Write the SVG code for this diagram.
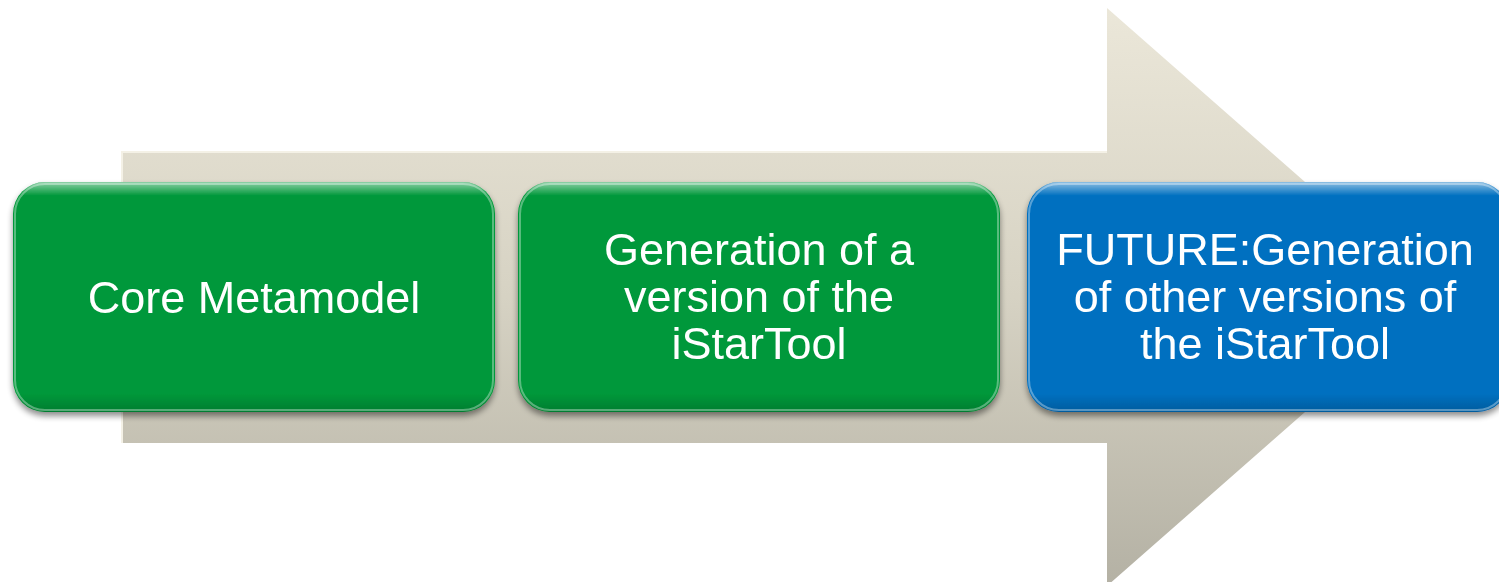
<svg xmlns="http://www.w3.org/2000/svg" width="1499" height="582" viewBox="0 0 1499 582">
  <defs>
    <linearGradient id="arrowFill" x1="0" y1="0" x2="0" y2="1">
      <stop offset="0" stop-color="#ebe7d9"/>
      <stop offset="0.5" stop-color="#d6d2c3"/>
      <stop offset="1" stop-color="#b4b1a4"/>
    </linearGradient>
    <linearGradient id="gloss" x1="0" y1="0" x2="0" y2="1">
      <stop offset="0" stop-color="#ffffff" stop-opacity="0.55"/>
      <stop offset="0.06" stop-color="#ffffff" stop-opacity="0"/>
      <stop offset="0.92" stop-color="#000000" stop-opacity="0"/>
      <stop offset="1" stop-color="#000000" stop-opacity="0.18"/>
    </linearGradient>
    <filter id="shadow" x="-5%" y="-5%" width="110%" height="120%">
      <feGaussianBlur in="SourceAlpha" stdDeviation="3"/>
      <feOffset dx="0" dy="4" result="b"/>
      <feComponentTransfer><feFuncA type="linear" slope="0.45"/></feComponentTransfer>
      <feMerge><feMergeNode/><feMergeNode in="SourceGraphic"/></feMerge>
    </filter>
  </defs>
  <style>
    .label { font-family: "Liberation Sans", Arial, sans-serif; font-size: 45px; fill: #ffffff; text-anchor: middle; }
    .green { fill: #00983a; }
    .blue { fill: #0070c0; }
    .rim { fill: none; stroke: #ffffff; stroke-opacity: 0.35; stroke-width: 2; }
  </style>

  <rect width="1499" height="582" fill="#ffffff"/>

  <!-- background block arrow -->
  <g id="timeline-arrow">
    <polygon points="122,152 1107,152 1107,8 1436,297 1107,586 1107,443 122,443" fill="url(#arrowFill)"/>
    <polyline points="122,443 122,152 1107,152" fill="none" stroke="#f4f1e6" stroke-width="2"/>
  </g>

  <g id="node-core" filter="url(#shadow)">
    <rect class="green" x="13" y="182" width="482" height="230" rx="32"/>
    <rect x="13" y="182" width="482" height="230" rx="32" fill="url(#gloss)"/>
    <rect class="rim" x="15" y="184" width="478" height="226" rx="30"/>
    <text class="label" x="254" y="313">Core Metamodel</text>
  </g>

  <g id="node-generation" filter="url(#shadow)">
    <rect class="green" x="518" y="182" width="482" height="230" rx="32"/>
    <rect x="518" y="182" width="482" height="230" rx="32" fill="url(#gloss)"/>
    <rect class="rim" x="520" y="184" width="478" height="226" rx="30"/>
    <text class="label" x="759" y="265">Generation of a</text>
    <text class="label" x="759" y="312">version of the</text>
    <text class="label" x="759" y="359">iStarTool</text>
  </g>

  <g id="node-future" filter="url(#shadow)">
    <rect class="blue" x="1027" y="182" width="482" height="230" rx="32"/>
    <rect x="1027" y="182" width="482" height="230" rx="32" fill="url(#gloss)"/>
    <rect class="rim" x="1029" y="184" width="478" height="226" rx="30"/>
    <text class="label" x="1265" y="265">FUTURE:Generation</text>
    <text class="label" x="1265" y="312">of other versions of</text>
    <text class="label" x="1265" y="359">the iStarTool</text>
  </g>

  <g id="connectors"/>
</svg>
